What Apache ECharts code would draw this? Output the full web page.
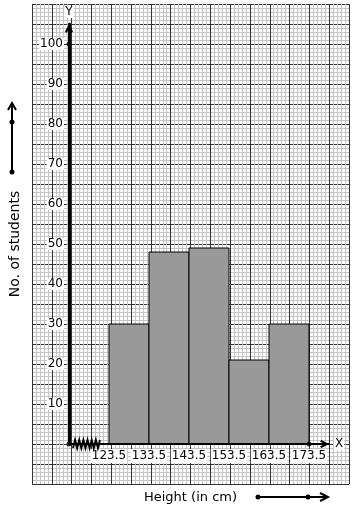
<!DOCTYPE html>
<html><head><meta charset="utf-8">
<script src="https://cdn.jsdelivr.net/npm/echarts@6/dist/echarts.min.js"></script>
<style>html,body{margin:0;padding:0;background:#fff}#c{width:354px;height:510px}</style>
</head><body><div id="c"></div>
<script>
// ---- data ----
const classEdges = [123.5, 133.5, 143.5, 153.5, 163.5, 173.5];
const frequencies = [30, 48, 49, 21, 30];
const yTickLabels = [10, 20, 30, 40, 50, 60, 70, 80, 90, 100];
const xTickLabels = [123.5, 133.5, 143.5, 153.5, 163.5, 173.5];
const xAxisTitle = 'Height (in cm)';
const yAxisTitle = 'No. of students';
const axisDots = [[113.5, 0], [173.5, 0], [113.5, 100]];
const breakSpan = [[114.5, 121.25]];

const bars = frequencies.map((f, i) => [classEdges[i], classEdges[i + 1], f]);
const FONT = 'DejaVu Sans';
const chevron = 'path://M4,0 L8,7.6 L6.4,9 L4,4.2 L1.6,9 L0,7.6 Z';

const chart = echarts.init(document.getElementById('c'), null, {renderer: 'canvas'});
const txt = (size) => ({fontFamily: FONT, fontSize: size, color: '#000'});

const option = {
  animation: false,
  backgroundColor: '#fff',
  grid: [
    {left: 29, top: 4, width: 320, height: 480, show: false},
    {left: 69, top: 24, width: 260, height: 420, show: false}
  ],
  xAxis: [
    {
      gridIndex: 0, type: 'value', min: 0, max: 80, interval: 5, z: 1,
      axisLine: {show: false}, axisTick: {show: false}, axisLabel: {show: false},
      minorTick: {show: false, splitNumber: 5},
      splitLine: {show: true, lineStyle: {color: '#333', width: 1}},
      minorSplitLine: {show: true, lineStyle: {color: '#c4c4c4', width: 1}},
      name: xAxisTitle, nameLocation: 'middle', nameGap: 7,
      nameTextStyle: Object.assign(txt(13), {verticalAlign: 'top'})
    },
    {
      gridIndex: 1, type: 'value', min: 113.5, max: 178.5, z: 4,
      axisLine: {show: true, onZero: false, lineStyle: {color: '#000', width: 2},
        symbol: ['none', chevron], symbolSize: [8, 9], symbolOffset: [0, -4.5]},
      axisTick: {show: false}, splitLine: {show: false},
      axisLabel: Object.assign(txt(12), {customValues: xTickLabels, margin: 5,
        formatter: v => v.toFixed(1), backgroundColor: '#fff', padding: [1, 1]}),
      name: 'X', nameLocation: 'end', nameGap: 5,
      nameTextStyle: Object.assign(txt(12), {backgroundColor: '#fff', padding: [0, 1]})
    }
  ],
  yAxis: [
    {
      gridIndex: 0, type: 'value', min: 0, max: 120, interval: 5, z: 0,
      axisLine: {show: false}, axisTick: {show: false}, axisLabel: {show: false},
      minorTick: {show: false, splitNumber: 5},
      splitLine: {show: true, lineStyle: {color: '#333', width: 1}},
      minorSplitLine: {show: true, lineStyle: {color: '#c4c4c4', width: 1}},
      name: yAxisTitle, nameLocation: 'middle', nameGap: 10,
      nameTextStyle: txt(14)
    },
    {
      gridIndex: 1, type: 'value', min: 0, max: 105, z: 4,
      axisLine: {show: true, onZero: false, lineStyle: {color: '#000', width: 3},
        symbol: ['none', chevron], symbolSize: [8, 9], symbolOffset: [0, -4.5]},
      axisTick: {show: false}, splitLine: {show: false},
      axisLabel: Object.assign(txt(12), {customValues: yTickLabels, margin: 5,
        backgroundColor: '#fff', padding: [0, 1]}),
      name: 'Y', nameLocation: 'end', nameGap: 6,
      nameTextStyle: Object.assign(txt(12), {backgroundColor: '#fff', padding: [0, 1]})
    }
  ],
  series: [
    {
      type: 'custom', xAxisIndex: 1, yAxisIndex: 1, z: 2,
      data: bars, encode: {x: [0, 1], y: 2},
      renderItem: function (params, api) {
        const p0 = api.coord([api.value(0), 0]);
        const p1 = api.coord([api.value(1), api.value(2)]);
        return {type: 'rect',
          shape: {x: p0[0], y: p1[1], width: p1[0] - p0[0], height: p0[1] - p1[1]},
          style: {fill: '#999999', stroke: '#000', lineWidth: 1}};
      }
    },
    {
      type: 'custom', xAxisIndex: 1, yAxisIndex: 1, z: 6,
      data: breakSpan, encode: {x: [0, 1]},
      renderItem: function (params, api) {
        const pa = api.coord([api.value(0), 0]);
        const pb = api.coord([api.value(1), 0]);
        const pts = [];
        const n = 13;
        for (let i = 0; i <= n; i++) {
          pts.push([pa[0] + (pb[0] - pa[0]) * i / n, pa[1] + (i % 2 ? -4 : 4)]);
        }
        return {type: 'polyline', shape: {points: pts},
          style: {stroke: '#000', lineWidth: 2, fill: null}};
      }
    },
    {
      type: 'scatter', xAxisIndex: 1, yAxisIndex: 1, z: 7,
      data: axisDots, symbolSize: 5, itemStyle: {color: '#000'}, silent: true
    }
  ],
  graphic: [
    // left decorative arrow
    {type: 'line', shape: {x1: 12, y1: 172, x2: 12, y2: 104}, style: {stroke: '#000', lineWidth: 2}},
    {type: 'polyline', shape: {points: [[8, 110], [12, 103], [16, 110]]}, style: {stroke: '#000', lineWidth: 2, fill: null}},
    {type: 'circle', shape: {cx: 12, cy: 172, r: 2.5}, style: {fill: '#000'}},
    {type: 'circle', shape: {cx: 12, cy: 122, r: 2.5}, style: {fill: '#000'}},
    // bottom decorative arrow
    {type: 'line', shape: {x1: 258, y1: 497, x2: 327, y2: 497}, style: {stroke: '#000', lineWidth: 2}},
    {type: 'polyline', shape: {points: [[320, 493], [328, 497], [320, 501]]}, style: {stroke: '#000', lineWidth: 2, fill: null}},
    {type: 'circle', shape: {cx: 258, cy: 497, r: 2.5}, style: {fill: '#000'}},
    {type: 'circle', shape: {cx: 308, cy: 497, r: 2.5}, style: {fill: '#000'}}
  ]
};
chart.setOption(option);
</script>
</body></html>
